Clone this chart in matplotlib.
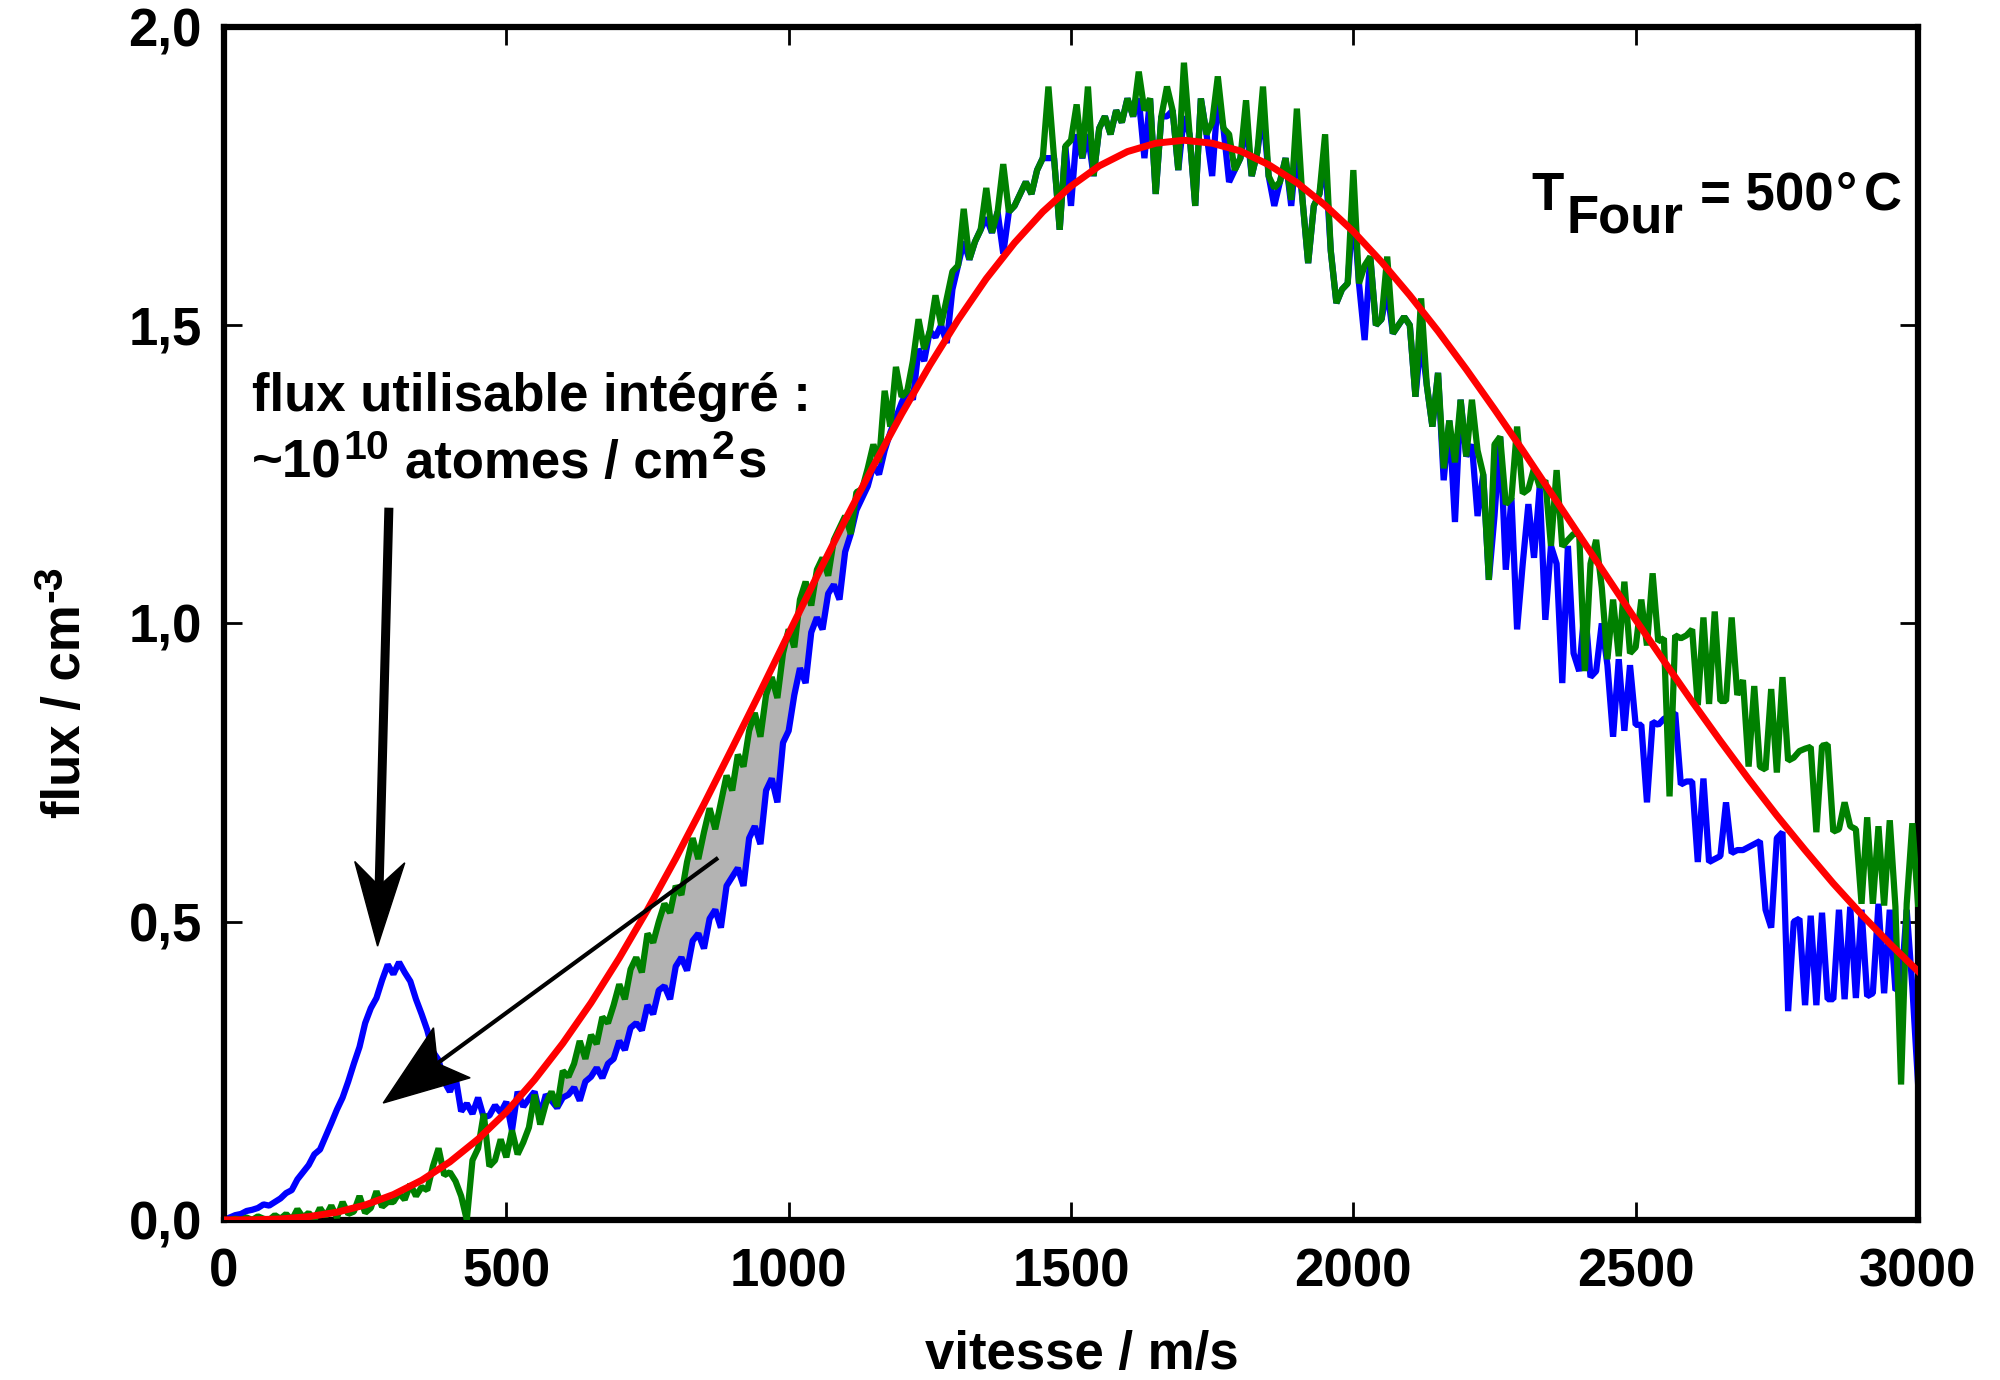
# Flux vs vitesse, jet atomique (T four = 500 °C)

import numpy as np
import matplotlib
matplotlib.use("Agg")
import matplotlib.pyplot as plt
from matplotlib.patches import Polygon
from matplotlib.transforms import IdentityTransform

plt.rcParams['font.family'] = ['Liberation Sans', 'DejaVu Sans']
plt.rcParams['font.weight'] = 'bold'

# --- data ---
# measured curves, one value every 10 m/s from 0 to 3000
vitesse = np.arange(0, 3001, 10)

flux_bleu = [
    0.000, 0.004, 0.008, 0.010, 0.015, 0.017, 0.020, 0.026, 0.024, 0.030,
    0.036, 0.045, 0.050, 0.068, 0.080, 0.092, 0.110, 0.118, 0.140, 0.162,
    0.185, 0.205, 0.232, 0.262, 0.290, 0.330, 0.355, 0.372, 0.402, 0.428,
    0.412, 0.432, 0.415, 0.400, 0.370, 0.345, 0.318, 0.282, 0.268, 0.232,
    0.215, 0.240, 0.182, 0.195, 0.178, 0.205, 0.172, 0.175, 0.192, 0.180,
    0.198, 0.150, 0.215, 0.190, 0.203, 0.215, 0.175, 0.210, 0.200, 0.188,
    0.205, 0.210, 0.222, 0.200, 0.232, 0.240, 0.255, 0.238, 0.262, 0.270,
    0.300, 0.285, 0.322, 0.330, 0.318, 0.360, 0.345, 0.385, 0.392, 0.370,
    0.425, 0.440, 0.418, 0.468, 0.480, 0.455, 0.505, 0.520, 0.490, 0.560,
    0.575, 0.590, 0.560, 0.640, 0.660, 0.630, 0.720, 0.740, 0.700, 0.800,
    0.820, 0.880, 0.925, 0.900, 0.985, 1.010, 0.990, 1.050, 1.065, 1.040,
    1.120, 1.150, 1.190, 1.210, 1.230, 1.265, 1.250, 1.290, 1.320, 1.345,
    1.370, 1.390, 1.375, 1.460, 1.440, 1.490, 1.480, 1.500, 1.470, 1.560,
    1.600, 1.640, 1.610, 1.640, 1.660, 1.680, 1.655, 1.690, 1.620, 1.690,
    1.700, 1.720, 1.740, 1.720, 1.760, 1.780, 1.780, 1.780, 1.660, 1.800,
    1.700, 1.820, 1.780, 1.820, 1.750, 1.830, 1.850, 1.820, 1.860, 1.840,
    1.880, 1.850, 1.880, 1.780, 1.880, 1.720, 1.850, 1.850, 1.860, 1.760,
    1.850, 1.820, 1.700, 1.880, 1.820, 1.750, 1.880, 1.830, 1.740, 1.760,
    1.780, 1.840, 1.750, 1.790, 1.860, 1.750, 1.700, 1.740, 1.780, 1.700,
    1.800, 1.710, 1.604, 1.700, 1.720, 1.780, 1.625, 1.537, 1.560, 1.570,
    1.700, 1.570, 1.475, 1.615, 1.500, 1.510, 1.560, 1.486, 1.500, 1.514,
    1.500, 1.380, 1.480, 1.400, 1.330, 1.420, 1.240, 1.340, 1.170, 1.375,
    1.280, 1.300, 1.180, 1.250, 1.073, 1.180, 1.313, 1.090, 1.210, 0.990,
    1.100, 1.200, 1.110, 1.229, 1.006, 1.130, 1.100, 0.900, 1.130, 0.950,
    0.920, 1.030, 0.910, 0.920, 1.000, 0.930, 0.810, 0.940, 0.820, 0.930,
    0.830, 0.830, 0.700, 0.835, 0.830, 0.840, 0.845, 0.850, 0.730, 0.735,
    0.735, 0.600, 0.740, 0.600, 0.605, 0.610, 0.700, 0.615, 0.620, 0.620,
    0.625, 0.630, 0.635, 0.520, 0.490, 0.640, 0.650, 0.350, 0.500, 0.505,
    0.360, 0.510, 0.360, 0.515, 0.370, 0.370, 0.520, 0.370, 0.525, 0.372,
    0.520, 0.375, 0.380, 0.530, 0.380, 0.520, 0.385, 0.390, 0.520, 0.390,
    0.230,
]

flux_vert = [
    0.000, 0.000, 0.002, 0.000, 0.004, 0.000, 0.006, 0.002, 0.000, 0.008,
    0.002, 0.010, 0.000, 0.018, 0.004, 0.012, 0.000, 0.020, 0.006, 0.024,
    0.004, 0.030, 0.010, 0.014, 0.040, 0.012, 0.020, 0.048, 0.022, 0.030,
    0.030, 0.045, 0.034, 0.060, 0.040, 0.055, 0.050, 0.090, 0.120, 0.075,
    0.080, 0.065, 0.040, 0.000, 0.100, 0.120, 0.178, 0.090, 0.100, 0.135,
    0.105, 0.150, 0.110, 0.130, 0.155, 0.210, 0.160, 0.195, 0.215, 0.190,
    0.250, 0.240, 0.262, 0.300, 0.270, 0.310, 0.295, 0.340, 0.330, 0.360,
    0.395, 0.370, 0.420, 0.440, 0.415, 0.480, 0.465, 0.500, 0.530, 0.515,
    0.560, 0.545, 0.600, 0.640, 0.605, 0.650, 0.690, 0.655, 0.700, 0.745,
    0.720, 0.780, 0.760, 0.820, 0.850, 0.810, 0.880, 0.910, 0.875, 0.950,
    0.990, 0.960, 1.040, 1.070, 1.030, 1.090, 1.110, 1.080, 1.140, 1.160,
    1.180, 1.150, 1.220, 1.225, 1.260, 1.300, 1.270, 1.390, 1.330, 1.430,
    1.380, 1.390, 1.440, 1.510, 1.460, 1.490, 1.550, 1.500, 1.545, 1.590,
    1.600, 1.695, 1.610, 1.640, 1.660, 1.730, 1.655, 1.690, 1.770, 1.690,
    1.700, 1.720, 1.740, 1.720, 1.760, 1.780, 1.900, 1.780, 1.660, 1.800,
    1.810, 1.870, 1.780, 1.900, 1.750, 1.830, 1.850, 1.820, 1.860, 1.840,
    1.880, 1.850, 1.925, 1.860, 1.880, 1.720, 1.850, 1.900, 1.860, 1.760,
    1.940, 1.820, 1.700, 1.880, 1.820, 1.840, 1.917, 1.830, 1.820, 1.760,
    1.780, 1.877, 1.750, 1.790, 1.900, 1.750, 1.730, 1.740, 1.780, 1.710,
    1.863, 1.710, 1.604, 1.700, 1.720, 1.820, 1.625, 1.537, 1.560, 1.570,
    1.760, 1.570, 1.600, 1.615, 1.500, 1.510, 1.615, 1.486, 1.500, 1.514,
    1.500, 1.380, 1.545, 1.400, 1.330, 1.420, 1.260, 1.340, 1.270, 1.375,
    1.280, 1.375, 1.290, 1.250, 1.073, 1.300, 1.313, 1.200, 1.210, 1.330,
    1.218, 1.225, 1.260, 1.229, 1.240, 1.130, 1.257, 1.129, 1.140, 1.150,
    1.150, 0.920, 1.100, 1.140, 1.060, 0.940, 1.040, 0.945, 1.070, 0.950,
    0.960, 1.040, 0.963, 1.084, 0.970, 0.975, 0.710, 0.980, 0.975, 0.980,
    0.990, 0.863, 1.010, 0.865, 1.020, 0.870, 0.870, 1.010, 0.880, 0.905,
    0.760, 0.895, 0.760, 0.755, 0.890, 0.750, 0.910, 0.770, 0.775, 0.786,
    0.790, 0.793, 0.650, 0.795, 0.797, 0.651, 0.655, 0.700, 0.660, 0.655,
    0.530, 0.675, 0.530, 0.660, 0.527, 0.670, 0.525, 0.227, 0.530, 0.665,
    0.530,
]

# fitted (red) curve, one value every 50 m/s
vitesse_fit = np.arange(0, 3001, 50)
flux_fit = [
    0.000, 0.0002, 0.0016, 0.0055, 0.0129, 0.0250, 0.0425, 0.0664, 0.0973, 0.1355,
    0.181, 0.235, 0.296, 0.364, 0.439, 0.520, 0.606, 0.697, 0.791, 0.886,
    0.983, 1.079, 1.173, 1.264, 1.351, 1.433, 1.509, 1.578, 1.638, 1.690,
    1.733, 1.767, 1.791, 1.805, 1.810, 1.805, 1.792, 1.769, 1.739, 1.701,
    1.657, 1.606, 1.550, 1.490, 1.426, 1.359, 1.290, 1.219, 1.148, 1.077,
    1.006, 0.937, 0.869, 0.803, 0.739, 0.678, 0.620, 0.564, 0.512, 0.463,
    0.417,
]

# band where the two measured curves are shaded
bande = (560, 1150)

x_ticks = [0, 500, 1000, 1500, 2000, 2500, 3000]
y_ticks = [0.0, 0.5, 1.0, 1.5, 2.0]
y_tick_labels = ['0,0', '0,5', '1,0', '1,5', '2,0']

FS = 38
DPI = 100


def draw_arrow(ax, tail, tip, lw, head_len, head_w, notch):
    # head geometry is done in pixels so it keeps its shape
    t = ax.transData
    p0 = np.array(t.transform(tail))
    p1 = np.array(t.transform(tip))
    d = (p1 - p0) / np.hypot(*(p1 - p0))
    n = np.array([-d[1], d[0]])
    back = p1 - d * head_len
    inner = p1 - d * (head_len - notch)
    ax.add_line(plt.Line2D([p0[0], inner[0]], [p0[1], inner[1]],
                           transform=IdentityTransform(), color='black',
                           lw=lw, solid_capstyle='butt', zorder=6))
    head = [p1, back + n * head_w / 2, inner, back - n * head_w / 2]
    ax.add_patch(Polygon(head, closed=True, transform=IdentityTransform(),
                         facecolor='black', edgecolor='black', lw=1, zorder=6))


def rich_text(fig, x0, y0, pieces, fs, rotation=0):
    # pieces: (text, superscript?, gap in px before); x0, y0 in pixels
    r = fig.canvas.get_renderer()
    pos = 0.0
    for s, sup, gap in pieces:
        pos += gap
        size = fs * 0.78 if sup else fs
        rise = fs * 0.36 * DPI / 72 if sup else 0.0
        if rotation == 0:
            px, py = x0 + pos, y0 + rise
        else:
            px, py = x0 - rise, y0 + pos
        t = fig.text(px, py, s, fontsize=size, fontweight='bold',
                     transform=IdentityTransform(), rotation=rotation,
                     rotation_mode='anchor', ha='left', va='baseline')
        bb = t.get_window_extent(r)
        pos += bb.width if rotation == 0 else bb.height


fig = plt.figure(figsize=(20, 13.8), dpi=DPI)
ax = fig.add_axes([0.112, 0.116, 0.847, 0.8645])

vb = np.array(flux_bleu)
vv = np.array(flux_vert)
zone = (vitesse >= bande[0]) & (vitesse <= bande[1]) & (vv >= vb)
ax.fill_between(vitesse, vb, vv, where=zone, interpolate=True,
                color='#b3b3b3', lw=0, zorder=1)

ax.plot(vitesse, flux_bleu, color='#0000ff', lw=4.5, solid_joinstyle='bevel', zorder=2)
ax.plot(vitesse, flux_vert, color='#008000', lw=4.5, solid_joinstyle='bevel', zorder=3)
ax.plot(vitesse_fit, flux_fit, color='#ff0000', lw=5.0, zorder=4)

ax.set_xlim(0, 3000)
ax.set_ylim(0, 2)
ax.set_xticks(x_ticks)
ax.set_xticklabels([str(t) for t in x_ticks])
ax.set_yticks(y_ticks)
ax.set_yticklabels(y_tick_labels)
ax.tick_params(direction='in', length=13, width=2, top=True, right=True,
               labelsize=FS)
ax.tick_params(axis='x', pad=20)
ax.tick_params(axis='y', pad=16)
for s in ax.spines.values():
    s.set_linewidth(4.5)

ax.set_xlabel('vitesse / m/s', fontsize=FS, fontweight='bold')
ax.xaxis.set_label_coords(0.5065, -0.092)

# y label with a large superscript, written bottom to top
rich_text(fig, 80, 1380 - 818,
          [('flux / cm', False, 0), ('-3', True, 2)], FS, rotation=90)

# annotations
ax.text(50, 1.356, 'flux utilisable intégré :', fontsize=FS, ha='left', va='baseline')
bx, by = ax.transData.transform((50, 1.244))
rich_text(fig, bx, by,
          [('~10', False, 0), ('10', True, 2), ('atomes / cm', False, 16),
           ('2', True, 2), ('s', False, 2)], FS)

ax.text(2316, 1.693, 'T', fontsize=FS, ha='left', va='baseline')
ax.text(2378, 1.656, 'Four', fontsize=FS, ha='left', va='baseline')
ax.text(2614, 1.693, '= 500', fontsize=FS, ha='left', va='baseline')
ax.text(2855, 1.693, '°', fontsize=FS, ha='left', va='baseline')
ax.text(2905, 1.693, 'C', fontsize=FS, ha='left', va='baseline')

draw_arrow(ax, (292, 1.194), (272, 0.459), lw=6.5, head_len=84, head_w=50, notch=24)
draw_arrow(ax, (875, 0.607), (282, 0.196), lw=3.0, head_len=85, head_w=62, notch=18)

fig.savefig('out.png', dpi=DPI)
